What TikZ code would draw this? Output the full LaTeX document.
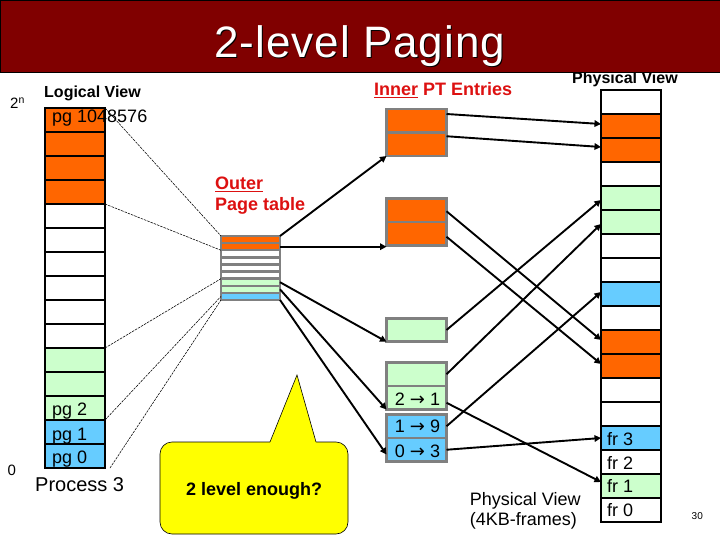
\documentclass[tikz,border=0pt]{standalone}
\usepackage{fontspec}
\setmainfont{Liberation Sans}
\newfontfamily\titlefont[LetterSpace=2.3]{Liberation Sans}
\newfontfamily\arrfont{DejaVu Sans}
\usetikzlibrary{arrows.meta}
\definecolor{head}{HTML}{800000}
\definecolor{org}{HTML}{FF6600}
\definecolor{grn}{HTML}{CCFFCC}
\definecolor{blu}{HTML}{66CCFF}
\definecolor{wht}{HTML}{FFFFFF}
\definecolor{edge}{HTML}{808080}
\definecolor{redt}{HTML}{DD1111}
\definecolor{bub}{HTML}{FFFF00}
\tikzset{
  colbox/.style={draw=black, line width=2.6pt, minimum width=60pt, minimum height=24pt, inner sep=0pt, outer sep=0pt},
  ptbox/.style={draw=edge, line width=2.8pt, minimum width=60pt, minimum height=23.5pt, inner sep=0pt, outer sep=0pt},
  otbox/.style={draw=edge, line width=2.4pt, minimum width=59pt, minimum height=7.1pt, inner sep=0pt, outer sep=0pt},
  arr/.style={draw=black, line width=1.9pt, -{Triangle[length=6.5pt,width=6.5pt]}},
  mapl/.style={draw=black, line width=0.55pt, dash pattern=on 2.5pt off 1pt},
  lab/.style={anchor=base west, inner sep=0pt, font=\fontsize{18}{20}\selectfont},
  labb/.style={lab, font=\fontsize{16}{18}\selectfont\bfseries},
  labr/.style={lab, text=redt, font=\fontsize{18}{20}\selectfont\bfseries},
  labs/.style={lab, font=\fontsize{15}{18}\selectfont},
}
\newcommand{\rarr}{{\arrfont →}}

\begin{document}
\begin{tikzpicture}[x=1pt,y=-1pt]
  \useasboundingbox (0,0) rectangle (720,540);
  \fill[white] (0,0) rectangle (720,540);
  % views
  \foreach \i/\c in {1/org,2/org,3/org,4/org,5/wht,6/wht,7/wht,8/wht,9/wht,10/wht,11/grn,12/grn,13/grn,14/blu,15/blu}{
    \node[colbox, fill=\c] (lv\i) at (75,{96+24*\i}) {};
  }
  \foreach \i/\c in {1/wht,2/org,3/org,4/wht,5/grn,6/grn,7/wht,8/wht,9/blu,10/wht,11/org,12/org,13/wht,14/wht,15/blu,16/wht,17/grn,18/wht}{
    \node[colbox, fill=\c] (fr\i) at (631,{78+24*\i}) {};
  }
  % outer table
  \foreach \i/\c in {1/org,2/org,3/wht,4/wht,5/wht,6/wht,7/grn,8/grn,9/blu}{
    \node[otbox, fill=\c] (ot\i) at (250.5,{232.5+7.1*\i}) {};
  }
  % inner tables
  \node[ptbox, fill=org] (in1a) at (416.5,120.75) {};
  \node[ptbox, fill=org] (in1b) at (416.5,144.25) {};
  \node[ptbox, fill=org] (in2a) at (416.5,210.25) {};
  \node[ptbox, fill=org] (in2b) at (416.5,233.75) {};
  \node[ptbox, fill=grn] (in3) at (416.5,330) {};
  \node[ptbox, fill=grn] (in4a) at (416.5,374.25) {};
  \node[ptbox, fill=grn] (in4b) at (416.5,397.75) {};
  \node[ptbox, fill=blu] (in5a) at (416.5,426.25) {};
  \node[ptbox, fill=blu] (in5b) at (416.5,449.75) {};
  % dashed lines
  \draw[mapl] (lv1.north east) -- (ot1.north west);
  \draw[mapl] (lv5.north east) -- (ot2.south west);
  \draw[mapl] (lv11.north east) -- (ot7.north west);
  \draw[mapl] (lv13.south east) -- (ot9.west);
  \draw[mapl] ([xshift=5pt]lv15.south east) -- (ot9.south west);
  % outer to inner
  \draw[arr] (ot1.north east) -- (in1b.south west);
  \draw[arr] (ot2.east) -- (in2b.south west |- ot2.east);
  \draw[arr] (ot7.east) -- (in3.south west);
  \draw[arr] (ot8.east) -- (in4b.south west);
  \draw[arr] (ot9.south east) -- ([yshift=7pt]in5b.south west);
  % inner to frames
  \foreach \a/\b/\p/\q in {in1a/fr2/6.75/2,in1b/fr3/8/3,in2a/fr11/-1/2,in2b/fr12/-3/2,in3/fr5/0/-2,in4a/fr6/0/-2,in5a/fr9/0/2,in5b/fr15/0/0,in4b/fr17/-5/4}{
    \draw[arr] ([yshift=\p pt]\a.east) -- ([yshift=\q pt]\b.west);
  }
  % bubble
  \draw[fill=bub, draw=black, line width=0.6pt, rounded corners=12pt] (160,442) rectangle (348,534);
  \fill[bub] (270,444) -- (270,442) -- (297,375) -- (316,442) -- (316,444) -- cycle;
  \draw[black, line width=0.6pt] (270,442) -- (297,375) -- (316,442);
  \node[lab, font=\fontsize{18}{20}\selectfont\bfseries] (ask) at (186,495) {2 level enough?};
  % labels
  \node[labb] (lview) at (44,97.7) {Logical View};
  \node[labb] (pview) at (572,84) {Physical View};
  \node[labs] (top) at (10,109) {2\textsuperscript{n}};
  \node[labs] (bot) at (7.5,475) {0};
  \node[lab] (pgt) at (52,122.7) {pg 1048576};
  \node[lab] (pg2) at (52,415) {pg 2};
  \node[lab] (pg1) at (52,440) {pg 1};
  \node[lab] (pg0) at (52,463) {pg 0};
  \node[lab, font=\fontsize{20}{22}\selectfont] (proc) at (35,491.7) {Process 3};
  \node[labr] (ot) at (215,190) {\underline{Outer}};
  \node[labr] (otb) at (215,210.5) {Page table};
  \node[labr] (inn) at (374,95.7) {\underline{Inner} PT Entries};
  \node[lab, anchor=base] (e2) at (417.5,405) {2 \rarr{} 1};
  \node[lab, anchor=base] (e1) at (417.5,432) {1 \rarr{} 9};
  \node[lab, anchor=base] (e0) at (417.5,457) {0 \rarr{} 3};
  \node[lab] (fv1) at (469.6,505) {Physical View};
  \node[lab] (fv2) at (469.6,525.5) {(4KB-frames)};
  \foreach \t/\y/\n in {fr 3/445/3,fr 2/469/2,fr 1/492.7/1,fr 0/516.7/0}{
    \node[lab] (lfr\n) at (607,\y) {\t};
  }
  \node[lab, font=\fontsize{10}{12}\selectfont] (pnum) at (691.5,519) {30};
  % title bar
  \fill[head, draw=black, line width=0.7pt] (0,0) rectangle (720,72);
  \node[lab, text=black, font=\fontsize{44}{48}\titlefont] (tshadow) at (215,59) {2-level Paging};
  \node[lab, text=white, font=\fontsize{44}{48}\titlefont] (title) at (214,58) {2-level Paging};
\end{tikzpicture}
\end{document}
